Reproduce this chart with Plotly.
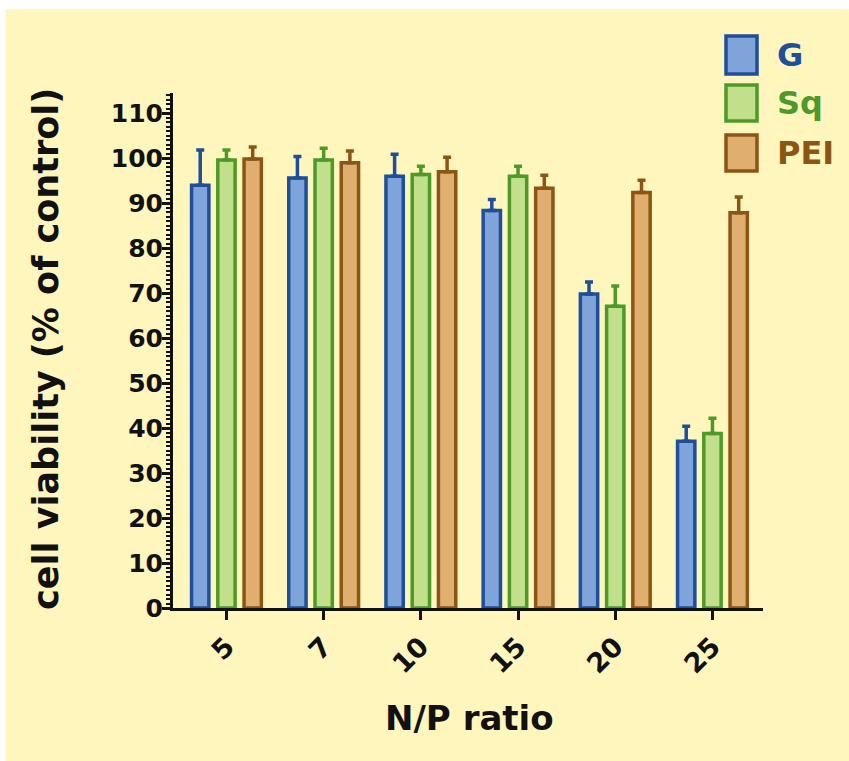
import plotly.graph_objects as go

# N/P ratios tested
ratios = ["5", "7", "10", "15", "20", "25"]

# Mean cell viability (% of control) and upper error (SD) per carrier
g_mean = [94.0, 95.6, 96.0, 88.4, 69.8, 37.1]
g_err = [7.8, 4.8, 4.9, 2.4, 2.7, 3.3]

sq_mean = [99.6, 99.6, 96.4, 96.0, 67.1, 38.8]
sq_err = [2.2, 2.6, 1.8, 2.2, 4.5, 3.4]

pei_mean = [99.8, 99.0, 97.0, 93.3, 92.4, 87.9]
pei_err = [2.7, 2.6, 3.2, 2.9, 2.7, 3.5]

y_ticks = [0, 10, 20, 30, 40, 50, 60, 70, 80, 90, 100, 110]

series = [
    ("G", g_mean, g_err, "#7fa4da", "#1f4e9a"),
    ("Sq", sq_mean, sq_err, "#c2e08c", "#4d9a28"),
    ("PEI", pei_mean, pei_err, "#e0af70", "#8b5614"),
]

FONT = "DejaVu Sans"
INK = "#111111"
BG = "#fff6be"

fig = go.Figure()
for name, mean, err, fill, edge in series:
    fig.add_trace(go.Bar(
        x=ratios, y=mean, name=name, showlegend=False,
        marker=dict(color=fill, line=dict(color=edge, width=3.5)),
        error_y=dict(type="data", array=err, arrayminus=[0] * len(err),
                     symmetric=False, color=edge, thickness=3.5, width=4),
    ))

# Page geometry (pixels)
W, H = 849, 761
L, R, T, B = 173, 86, 93, 153
pw, ph = W - L - R, H - T - B


def px_x(x):
    return (x - L) / pw


def px_y(y):
    return (H - B - y) / ph


shapes = [
    # tinted page area
    dict(type="rect", xref="paper", yref="paper", layer="below",
         x0=px_x(6), x1=px_x(W + 2), y0=px_y(H + 2), y1=px_y(9),
         fillcolor=BG, line=dict(width=0)),
]
annotations = []

# Legend: swatches with coloured labels
legend_rows = [(36, 74), (85, 121), (135, 171)]
for (name, _, _, fill, edge), (top, bot) in zip(series, legend_rows):
    shapes.append(dict(type="rect", xref="paper", yref="paper",
                       x0=px_x(726), x1=px_x(757), y0=px_y(bot), y1=px_y(top),
                       fillcolor=fill, line=dict(color=edge, width=3.5)))
    annotations.append(dict(xref="paper", yref="paper", x=px_x(775),
                            y=px_y((top + bot) / 2), text=name, showarrow=False,
                            xanchor="left", yanchor="middle",
                            font=dict(family=FONT, size=32, color=edge, weight="bold")))

# Axis titles
annotations.append(dict(xref="paper", yref="paper", x=px_x(470), y=px_y(718),
                        text="N/P ratio", showarrow=False,
                        xanchor="center", yanchor="middle",
                        font=dict(family=FONT, size=34, color=INK, weight="bold")))
annotations.append(dict(xref="paper", yref="paper", x=px_x(46), y=px_y(349),
                        text="cell viability (% of control)", showarrow=False,
                        textangle=-90, xanchor="center", yanchor="middle",
                        font=dict(family=FONT, size=35, color=INK, weight="bold")))

fig.update_layout(
    width=W, height=H,
    margin=dict(l=L, r=R, t=T, b=B, autoexpand=False),
    paper_bgcolor="white", plot_bgcolor=BG,
    barmode="group", bargap=0.19, bargroupgap=0.34,
    shapes=shapes, annotations=annotations,
    font=dict(family=FONT, color=INK),
    xaxis=dict(
        type="category", range=[-0.55, 5.52],
        showline=True, linecolor=INK, linewidth=3,
        ticks="outside", ticklen=9, tickwidth=2.5, tickcolor=INK,
        tickangle=-45, showgrid=False, zeroline=False,
        tickfont=dict(family=FONT, size=27, color=INK, weight="bold"),
    ),
    yaxis=dict(
        range=[0, 114.5], tickvals=y_ticks,
        showline=True, linecolor=INK, linewidth=3,
        ticks="outside", ticklen=8, tickwidth=2.5, tickcolor=INK,
        ticklabelstandoff=-6,
        minor=dict(dtick=1, ticks="outside", ticklen=4, tickwidth=1.5,
                   tickcolor=INK, showgrid=False),
        showgrid=False, zeroline=False,
        tickfont=dict(family=FONT, size=25, color=INK, weight="bold"),
    ),
)

fig.write_html("out.html")
